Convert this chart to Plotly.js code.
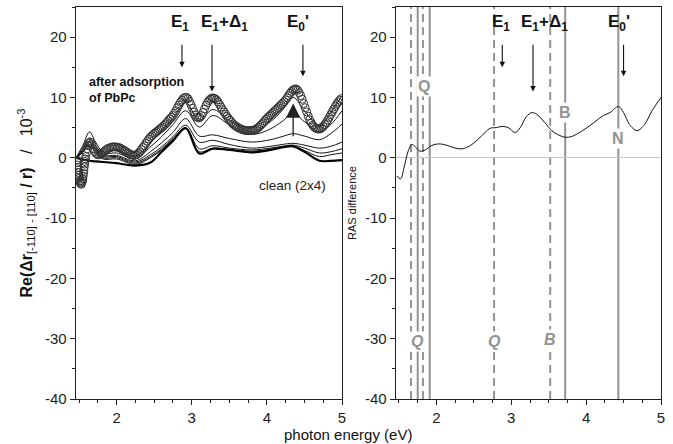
<!DOCTYPE html>
<html>
<head>
<meta charset="utf-8">
<script src="https://cdn.plot.ly/plotly-3.0.1.min.js"></script>
<style>html,body{margin:0;padding:0;background:#fff;}#chart{width:673px;height:444px;}</style>
</head>
<body>
<div id="chart"></div>
<script>
// ---- Data ----
// Left panel: open-circle curve (after adsorption of PbPc), [energy, value] pairs
const circPts = [
[1.47,-0.4],[1.475,-0.8],[1.48,-1.2],[1.485,-1.6],[1.49,-2.0],[1.495,-2.45],[1.50,-2.9],[1.505,-3.35],[1.51,-3.8],[1.515,-4.05],
[1.52,-4.25],[1.53,-4.4],[1.54,-4.1],[1.545,-3.8],[1.55,-3.5],[1.555,-3.05],[1.56,-2.6],[1.565,-2.05],[1.57,-1.5],[1.575,-1.05],
[1.58,-0.6],[1.585,-0.2],[1.59,0.2],[1.60,0.9],[1.61,1.5],[1.62,2.0],[1.63,2.4],[1.65,2.6],
[1.67,2.2],[1.69,1.5],[1.71,1.0],[1.73,0.7],[1.75,0.5],[1.77,0.5],[1.79,0.6],[1.81,0.8],[1.83,1.0],[1.85,1.2],
[1.87,1.4],[1.89,1.55],[1.91,1.65],[1.93,1.75],[1.95,1.8],[1.97,1.8],[1.99,1.8],[2.01,1.75],[2.03,1.7],[2.05,1.6],
[2.07,1.45],[2.09,1.3],[2.11,1.15],[2.13,1.0],[2.15,0.8],[2.17,0.65],[2.19,0.5],[2.21,0.45],[2.23,0.4],[2.25,0.45],
[2.27,0.55],[2.29,0.75],[2.31,1.0],[2.33,1.35],[2.35,1.7],[2.37,2.0],[2.39,2.4],[2.41,2.75],[2.43,3.1],[2.45,3.4],
[2.47,3.65],[2.49,3.9],[2.51,4.1],[2.53,4.3],[2.55,4.5],[2.57,4.7],[2.59,4.9],[2.61,5.1],[2.63,5.35],[2.65,5.6],
[2.67,5.85],[2.69,6.15],[2.71,6.45],[2.73,6.7],[2.75,7.0],[2.77,7.4],[2.79,7.8],[2.81,8.3],[2.83,8.75],[2.85,9.2],
[2.87,9.55],[2.89,9.85],[2.91,10.0],[2.93,10.0],[2.95,9.8],[2.97,9.35],[2.99,8.8],[3.01,8.2],[3.03,7.6],[3.05,7.1],
[3.07,6.75],[3.09,6.6],[3.11,6.7],[3.13,7.0],[3.15,7.5],[3.17,8.1],[3.19,8.7],[3.21,9.15],[3.23,9.5],[3.25,9.75],
[3.27,9.9],[3.29,9.9],[3.31,9.8],[3.33,9.6],[3.35,9.25],[3.37,8.85],[3.39,8.4],[3.41,8.0],[3.43,7.6],[3.45,7.2],
[3.47,6.85],[3.49,6.5],[3.51,6.2],[3.53,5.9],[3.55,5.6],[3.57,5.4],[3.59,5.2],[3.61,5.05],[3.63,4.9],[3.65,4.8],
[3.67,4.7],[3.69,4.6],[3.71,4.55],[3.73,4.5],[3.75,4.5],[3.77,4.5],[3.79,4.5],[3.81,4.55],[3.83,4.6],[3.85,4.7],
[3.87,4.85],[3.89,5.05],[3.91,5.3],[3.93,5.55],[3.95,5.8],[3.97,6.1],[3.99,6.4],[4.01,6.65],[4.03,6.9],[4.05,7.1],
[4.07,7.35],[4.09,7.6],[4.11,7.85],[4.13,8.05],[4.15,8.3],[4.17,8.55],[4.19,8.8],[4.21,9.05],[4.23,9.3],[4.25,9.6],
[4.27,9.95],[4.29,10.3],[4.31,10.7],[4.33,11.0],[4.35,11.25],[4.37,11.4],[4.39,11.4],[4.41,11.2],[4.43,10.8],[4.45,10.3],
[4.47,9.7],[4.49,9.0],[4.51,8.3],[4.53,7.6],[4.55,6.9],[4.57,6.3],[4.59,5.8],[4.61,5.4],[4.63,5.1],[4.65,4.9],
[4.67,4.8],[4.69,4.75],[4.71,4.8],[4.73,4.95],[4.75,5.2],[4.77,5.5],[4.79,5.85],[4.81,6.25],[4.83,6.7],[4.85,7.15],
[4.87,7.6],[4.89,8.05],[4.91,8.5],[4.93,8.9],[4.95,9.25],[4.97,9.55],[4.99,9.8]
];

// Left panel: intermediate spectra (lines) and the clean (2x4) spectrum
const lineX = [1.47,1.55,1.64,1.72,1.82,2.0,2.25,2.45,2.6,2.75,2.92,3.1,3.28,3.5,3.8,4.05,4.2,4.35,4.5,4.7,4.85,5.0];
const line1 = [0.2,2.0,4.3,2.6,1.0,1.3,0.3,2.5,4.5,6.5,9.2,6.2,8.0,6.2,4.3,6.0,7.8,10.0,7.8,5.3,7.5,10.3];
const line2 = [0.1,1.6,3.3,2.0,0.7,0.8,-0.2,1.8,3.5,5.5,7.8,5.1,7.0,5.5,3.9,4.8,6.0,7.3,6.0,4.3,5.5,7.8];
const line3 = [0.0,1.3,2.8,1.6,0.4,0.4,-0.5,1.0,2.5,4.2,6.5,3.6,3.8,3.2,2.6,3.0,3.5,4.0,3.6,3.0,4.0,5.6];
const line4 = [0.0,1.1,2.5,1.3,0.2,0.2,-0.7,0.5,1.8,3.5,5.4,2.6,2.9,2.2,1.6,1.9,2.2,2.4,2.1,1.6,1.9,2.6];
const line5 = [0.0,1.0,2.2,1.1,0.0,0.0,-0.9,0.2,1.5,3.2,5.0,1.5,2.0,1.6,1.3,1.6,1.9,2.1,1.6,0.8,1.0,1.5];
const line6 = [0.0,0.9,2.0,0.9,-0.2,-0.2,-1.1,0.0,1.3,3.0,4.9,1.0,1.6,1.4,1.1,1.4,1.7,1.9,1.2,0.2,0.5,0.8];
const cleanY = [0.0,-0.3,-0.5,-0.6,-0.7,-0.9,-1.3,-0.8,1.0,2.8,4.9,0.7,1.5,1.3,0.9,1.3,1.7,1.9,1.0,-0.5,-0.5,-0.4];

// Right panel: RAS difference
const diffX = [1.47,1.52,1.57,1.62,1.67,1.72,1.78,1.85,1.93,2.03,2.13,2.25,2.35,2.45,2.55,2.65,2.72,2.80,2.88,2.96,3.05,3.12,3.20,3.28,3.36,3.45,3.54,3.63,3.72,3.80,3.90,4.00,4.10,4.23,4.32,4.43,4.50,4.58,4.68,4.78,4.88,5.0];
const diffY = [-3.0,-3.5,-1.5,1.0,2.2,1.8,1.1,1.3,2.0,2.3,2.1,1.6,1.5,2.0,3.0,4.2,4.9,5.0,5.2,5.0,4.2,5.0,6.8,7.5,7.0,5.8,4.5,3.8,3.4,3.5,4.1,4.9,5.8,7.0,7.5,8.5,7.5,5.5,4.5,5.5,7.8,10.0];

// Transition energies in the right panel
const dashedE = [1.66, 1.82, 2.77, 3.52];
const solidE = [1.75, 1.91, 3.72, 4.43];

// Axis ticks
const xTickVals = [2,3,4,5];
const yTickVals = [-40,-30,-20,-10,0,10,20];
const yTickText = ['-40','-30','-20','-10','0','10','20'];

// Critical point labels: [text, label x, arrow x, arrow tip y]
const cpLeft = [["E<sub>1</sub>",2.84,2.87,15],["E<sub>1</sub>+Δ<sub>1</sub>",3.43,3.27,11],["E<sub>0</sub>'",4.41,4.48,13.5]];
const cpRight = [["E<sub>1</sub>",2.86,2.88,15],["E<sub>1</sub>+Δ<sub>1</sub>",3.44,3.29,11],["E<sub>0</sub>'",4.44,4.50,13.5]];

// Transition labels in right panel: [text, x, y]
const transLabels = [["<b>Q</b>",1.83,11.8],["<b>B</b>",3.72,7.5],["<b>N</b>",4.43,3.2],
                     ["<b><i>Q</i></b>",1.75,-30.4],["<b><i>Q</i></b>",2.77,-30.4],["<b><i>B</i></b>",3.52,-30.2]];

// ---- Plot ----
const FONT = "Arial, 'Liberation Sans', sans-serif";
const traces = [];
const lineSets = [line1,line2,line3,line4,line5,line6];
lineSets.forEach(ys => traces.push({x: lineX, y: ys, xaxis:'x', yaxis:'y', mode:'lines',
  line:{color:'#111', width:1, shape:'spline', smoothing:1}, hoverinfo:'skip', showlegend:false}));
traces.push({x: lineX, y: cleanY, xaxis:'x', yaxis:'y', mode:'lines',
  line:{color:'#000', width:2.2, shape:'spline', smoothing:1}, showlegend:false});
traces.push({x: circPts.map(p => p[0]), y: circPts.map(p => p[1]), xaxis:'x', yaxis:'y', mode:'markers',
  marker:{symbol:'circle-open', size:8, color:'#333', line:{width:1}}, showlegend:false});
traces.push({x: diffX, y: diffY, xaxis:'x2', yaxis:'y2', mode:'lines',
  line:{color:'#111', width:1, shape:'spline', smoothing:1}, showlegend:false});

const shapes = [];
dashedE.forEach(e => shapes.push({type:'line', xref:'x2', yref:'y2', x0:e, x1:e, y0:-40, y1:25,
  line:{color:'#939393', width:2, dash:'8px,5px'}, layer:'below'}));
solidE.forEach(e => shapes.push({type:'line', xref:'x2', yref:'y2', x0:e, x1:e, y0:-40, y1:25,
  line:{color:'#939393', width:2}, layer:'below'}));

const ann = [];
function addCP(list, xr, yr) {
  list.forEach(c => {
    ann.push({xref:xr, yref:yr, x:c[1], y:22.3, text:'<b>'+c[0]+'</b>', showarrow:false,
      font:{family:FONT, size:17, color:'#111'}});
    ann.push({xref:xr, yref:yr, axref:xr, ayref:yr, x:c[2], y:c[3], ax:c[2], ay:19, text:'',
      showarrow:true, arrowhead:2, arrowsize:1, arrowwidth:1.1, arrowcolor:'#111'});
  });
}
addCP(cpLeft, 'x', 'y');
addCP(cpRight, 'x2', 'y2');
// big arrow clean -> adsorbed
ann.push({xref:'x', yref:'y', axref:'x', ayref:'y', x:4.35, y:9.0, ax:4.35, ay:3.3, text:'',
  showarrow:true, arrowhead:2, arrowsize:2.2, arrowwidth:1.3, arrowcolor:'#222'});
ann.push({xref:'paper', yref:'paper', x:87/673, y:1-73/444, xanchor:'left', yanchor:'top', align:'left',
  text:'<b>after adsorption<br>of PbPc</b>', showarrow:false, font:{family:FONT, size:12.5, color:'#111'}});
ann.push({xref:'paper', yref:'paper', x:292/673, y:1-186/444, xanchor:'center', yanchor:'middle',
  text:'clean (2x4)', showarrow:false, font:{family:FONT, size:13.5, color:'#222'}});
transLabels.forEach(t => ann.push({xref:'x2', yref:'y2', x:t[1], y:t[2], text:t[0], showarrow:false,
  bgcolor:'#fff', borderpad:1, font:{family:FONT, size:16, color:'#939393'}}));
// shared x title
ann.push({xref:'paper', yref:'paper', x:348/673, y:1-434/444, xanchor:'center', yanchor:'middle',
  text:'photon energy (eV)', showarrow:false, font:{family:FONT, size:15, color:'#111'}});

const xCommon = {range:[1.46,5.0], tickvals:xTickVals, ticks:'outside', ticklen:5, tickwidth:1,
  tickcolor:'#222', showline:true, linecolor:'#222', linewidth:1.3, mirror:true, showgrid:false,
  zeroline:false, tickfont:{family:FONT, size:15, color:'#222'},
  minor:{dtick:0.25, tick0:0, ticks:'outside', ticklen:3, tickcolor:'#222'}};
const yCommon = {range:[-40,25], tickvals:yTickVals, ticktext:yTickText, ticks:'outside', ticklen:5,
  tickwidth:1, tickcolor:'#222', showline:true, linecolor:'#222', linewidth:1.3, mirror:true,
  showgrid:false, tickfont:{family:FONT, size:15, color:'#222'},
  minor:{dtick:5, tick0:0, ticks:'outside', ticklen:3, tickcolor:'#222'}};

const layout = {
  width:673, height:444, margin:{l:0, r:0, t:0, b:0}, paper_bgcolor:'#fff', plot_bgcolor:'#fff',
  showlegend:false, font:{family:FONT},
  xaxis: Object.assign({}, xCommon, {domain:[76/673, 342/673], anchor:'y'}),
  yaxis: Object.assign({}, yCommon, {domain:[45/444, 437/444], anchor:'x', zeroline:false,
    title:{text:'<b>Re(Δr</b><sub>[-110] - [110]</sub><b> / r)</b>   /   10<sup>-3</sup>', standoff:8,
      font:{family:FONT, size:16, color:'#111'}}}),
  xaxis2: Object.assign({}, xCommon, {domain:[396/673, 661/673], anchor:'y2'}),
  yaxis2: Object.assign({}, yCommon, {domain:[45/444, 437/444], anchor:'x2', zeroline:true,
    zerolinecolor:'#c8c8c8', zerolinewidth:1.2,
    title:{text:'RAS difference', standoff:6, font:{family:FONT, size:11, color:'#111'}}}),
  shapes: shapes, annotations: ann
};
Plotly.newPlot('chart', traces, layout, {staticPlot:true, displayModeBar:false});
</script>
</body>
</html>
